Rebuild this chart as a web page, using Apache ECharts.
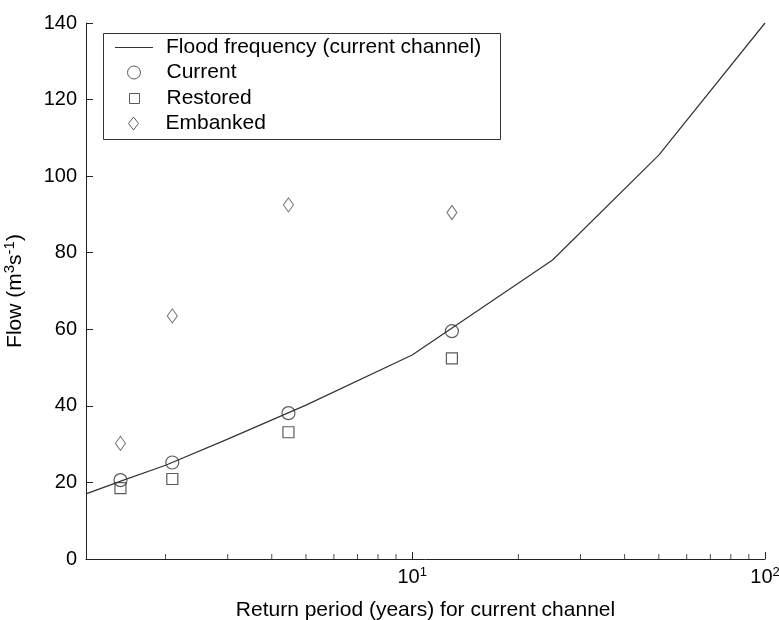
<!DOCTYPE html>
<html>
<head>
<meta charset="utf-8">
<script src="https://cdn.jsdelivr.net/npm/echarts@6/dist/echarts.min.js"></script>
<style>html,body{margin:0;padding:0;background:#fff}#c{width:779px;height:620px}</style>
</head>
<body>
<div id="c"></div>
<script>
// ---- data ----
const floodT = [1.19, 1.5, 2, 3, 5, 10, 25, 50, 100];
const floodQ = [17.0, 20.4, 24.5, 31.3, 40.2, 53.3, 78.1, 105.5, 140];
const eventT = [1.49, 2.09, 4.46, 12.96];
const currentQ = [20.6, 25.2, 38.1, 59.5];
const restoredQ = [18.5, 20.9, 33.1, 52.4];
const embankedQ = [30.2, 63.5, 92.5, 90.5];
const minorTickT = [2, 3, 4, 5, 6, 7, 8, 9, 20, 30, 40, 50, 60, 70, 80, 90];
const yTicks = [0, 20, 40, 60, 80, 100, 120, 140];
const seriesNames = ['Flood frequency (current channel)', 'Current', 'Restored', 'Embanked'];

const FONT = 'Liberation Sans, Arial, sans-serif';
const INK = '#222';
const pair = (xs, ys) => xs.map((x, i) => [x, ys[i]]);

const chart = echarts.init(document.getElementById('c'), null, {renderer: 'canvas'});
const legendBase = {
  orient: 'vertical', padding: 0, selectedMode: false,
  textStyle: {fontFamily: FONT, fontSize: 21, color: '#000'}
};
const symLegendItemStyle = {color: 'rgba(255,255,255,0)', borderColor: '#333', borderWidth: 1};
chart.setOption({
  backgroundColor: '#fff',
  animation: false,
  grid: {left: 86, right: 14, top: 23, bottom: 61, outerBoundsMode: 'none', containLabel: false},
  xAxis: {
    type: 'log', logBase: 10, min: 1.19, max: 100,
    name: 'Return period (years) for current channel',
    nameLocation: 'middle', nameGap: 41,
    nameTextStyle: {fontFamily: FONT, fontSize: 21, color: '#000'},
    axisLine: {show: true, lineStyle: {color: INK, width: 1}},
    axisTick: {show: true, inside: true, length: 7, lineStyle: {color: INK}},
    minorTick: {show: false},
    splitLine: {show: false},
    axisLabel: {
      margin: 7, color: '#000', fontFamily: FONT, fontSize: 20,
      showMinLabel: false,
      formatter: function (v) {
        const l = Math.log10(v);
        const r = Math.round(l);
        if (Math.abs(l - r) > 1e-6 || r < 1) return '';
        return '{b|10}{s|' + r + '}';
      },
      rich: {
        b: {fontFamily: FONT, fontSize: 20, color: '#000'},
        s: {fontFamily: FONT, fontSize: 13, color: '#000', verticalAlign: 'top', padding: [0, 0, 10, 0]}
      }
    }
  },
  yAxis: {
    type: 'value', min: yTicks[0], max: yTicks[yTicks.length - 1], interval: 20,
    name: 'Flow (m{s|3}s{s|-1})',
    nameLocation: 'middle', nameGap: 58,
    nameTextStyle: {
      fontFamily: FONT, fontSize: 21, color: '#000',
      rich: {s: {fontFamily: FONT, fontSize: 15, color: '#000', padding: [0, 0, 11, 0]}}
    },
    axisLine: {show: true, lineStyle: {color: INK, width: 1}},
    axisTick: {show: true, inside: true, length: 7, lineStyle: {color: INK}},
    splitLine: {show: false},
    axisLabel: {margin: 9, color: '#000', fontFamily: FONT, fontSize: 20}
  },
  legend: [
    Object.assign({}, legendBase, {
      data: [{name: seriesNames[0], icon: 'path://M0,0H40V1H0Z'}],
      left: 115, top: 37, itemWidth: 38, itemHeight: 14,
      textStyle: Object.assign({}, legendBase.textStyle, {padding: [0, 0, 0, 8]})}),
    Object.assign({}, legendBase, {data: [seriesNames[1]], left: 127, top: 62, itemWidth: 13, itemHeight: 13,
      itemStyle: symLegendItemStyle,
      textStyle: Object.assign({}, legendBase.textStyle, {padding: [0, 0, 0, 21]})}),
    Object.assign({}, legendBase, {data: [seriesNames[2]], left: 129, top: 88, itemWidth: 10, itemHeight: 10,
      itemStyle: symLegendItemStyle,
      textStyle: Object.assign({}, legendBase.textStyle, {padding: [0, 0, 0, 22]})}),
    Object.assign({}, legendBase, {data: [seriesNames[3]], left: 128, top: 113, itemWidth: 10, itemHeight: 13,
      itemStyle: symLegendItemStyle,
      textStyle: Object.assign({}, legendBase.textStyle, {padding: [0, 0, 0, 22]})})
  ],
  graphic: [{
    type: 'rect', left: 101, top: 31, z: 1, silent: true,
    shape: {width: 397, height: 106},
    style: {fill: 'none', stroke: '#333', lineWidth: 1}
  }],
  series: [
    {
      name: seriesNames[0], type: 'line', data: pair(floodT, floodQ),
      symbol: 'none', showSymbol: false, smooth: false,
      lineStyle: {color: '#333', width: 1.2}, itemStyle: {color: '#333'}
    },
    {
      name: seriesNames[1], type: 'scatter', data: pair(eventT, currentQ),
      symbol: 'circle', symbolSize: 13,
      itemStyle: {color: 'rgba(255,255,255,0)', borderColor: '#333', borderWidth: 1.2}
    },
    {
      name: seriesNames[2], type: 'scatter', data: pair(eventT, restoredQ),
      symbol: 'rect', symbolSize: 11,
      itemStyle: {color: 'rgba(255,255,255,0)', borderColor: '#333', borderWidth: 1.2}
    },
    {
      name: seriesNames[3], type: 'scatter', data: pair(eventT, embankedQ),
      symbol: 'diamond', symbolSize: [10, 14],
      itemStyle: {color: 'rgba(255,255,255,0)', borderColor: '#555', borderWidth: 1.1}
    },
    {
      name: 'minorTicks', type: 'scatter', silent: true, clip: false,
      data: minorTickT.map(t => [t, 0]),
      symbol: 'rect', symbolSize: [1, 5], symbolOffset: [0, -2.5],
      itemStyle: {color: INK}
    }
  ]
});
</script>
</body>
</html>
